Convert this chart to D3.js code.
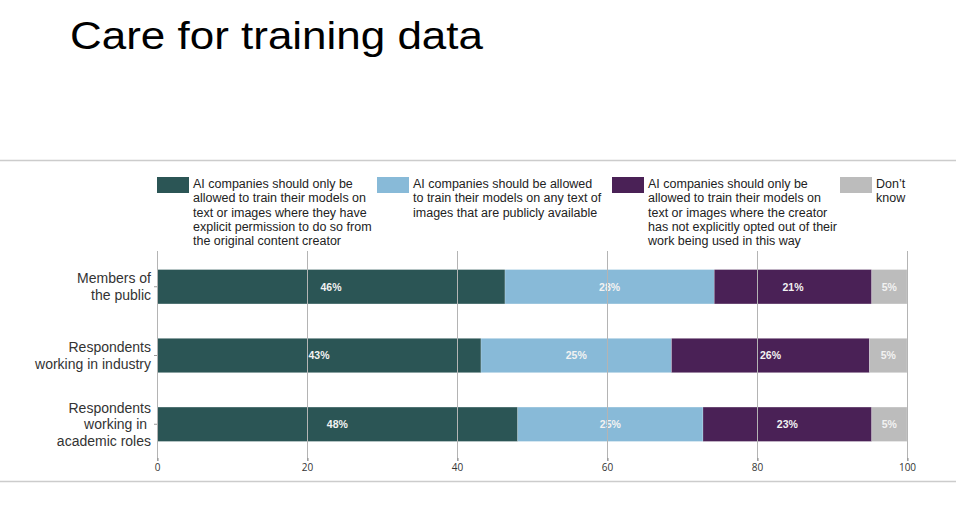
<!DOCTYPE html>
<html>
<head>
<meta charset="utf-8">
<script src="https://cdn.jsdelivr.net/npm/d3@7"></script>
<style>
    body { margin: 0; background: #fff; }
    svg { display: block; font-family: "Liberation Sans", Arial, sans-serif; }
</style>
</head>
<body>
<div id="wrapper"></div>
<script>
// categories (one entry per bar, split into label lines)
const categories = ["public", "industry", "academic"];
const categoryLines = [
    ["Members of", "the public"],
    ["Respondents", "working in industry"],
    ["Respondents", "working in ", "academic roles"]
];

// series values, in percent
const explicitPermission = [46.4, 43.2, 48.1];
const publiclyAvailable = [27.9, 25.4, 24.7];
const notOptedOut = [21.0, 26.4, 22.5];
const dontKnow = [4.7, 5.0, 4.7];

const seriesKeys = ["explicit", "available", "optout", "dontknow"];
const seriesValues = [explicitPermission, publiclyAvailable, notOptedOut, dontKnow];
const seriesColors = ["#2b5555", "#88bad8", "#4a2156", "#bcbcbc"];
const legendLines = [
    ["AI companies should only be", "allowed to train their models on", "text or images where they have", "explicit permission to do so from", "the original content creator"],
    ["AI companies should be allowed", "to train their models on any text of", "images that are publicly available"],
    ["AI companies should only be", "allowed to train their models on", "text or images where the creator", "has not explicitly opted out of their", "work being used in this way"],
    ["Don\u2019t", "know"]
];

const xTicks = [0, 20, 40, 60, 80, 100];
const title = "Care for training data";

function buildPlot() {
    const width = 956;
    const height = 528;

    // table for d3.stack
    const table = categories.map((c, i) => {
        const row = { category: c };
        seriesKeys.forEach((k, j) => row[k] = seriesValues[j][i]);
        return row;
    });

    const svg = d3.select("#wrapper").append("svg")
        .attr("width", width)
        .attr("height", height);

    // title
    svg.append("text")
        .attr("x", 70)
        .attr("y", 49)
        .attr("textLength", 413)
        .attr("lengthAdjust", "spacingAndGlyphs")
        .style("font-size", "38px")
        .style("fill", "#000")
        .text(title);

    // separator lines
    svg.append("line")
        .attr("x1", 0).attr("x2", width)
        .attr("y1", 160.5).attr("y2", 160.5)
        .attr("stroke", "#cccccc").attr("stroke-width", 1.5);
    svg.append("line")
        .attr("x1", 0).attr("x2", width)
        .attr("y1", 481.5).attr("y2", 481.5)
        .attr("stroke", "#cccccc").attr("stroke-width", 1.5);

    const xScale = d3.scaleLinear()
        .domain([0, 100])
        .range([157, 907]);

    const yScale = d3.scaleBand()
        .domain(categories)
        .range([251, 460])
        .paddingInner(0.5)
        .paddingOuter(0.27);

    // legend
    const legendX = [157, 377, 612, 840];
    const legend = svg.append("g").attr("class", "legend");
    seriesKeys.forEach((k, j) => {
        const g = legend.append("g")
            .attr("transform", `translate(${legendX[j]},177)`);
        g.append("rect")
            .attr("width", 32)
            .attr("height", 16)
            .attr("fill", seriesColors[j]);
        const t = g.append("text")
            .attr("x", 36)
            .attr("y", 11)
            .style("font-size", "12.5px")
            .style("fill", "#222");
        t.selectAll("tspan")
            .data(legendLines[j])
            .join("tspan")
            .attr("x", 36)
            .attr("dy", (d, i) => i === 0 ? 0 : 14.3)
            .text(d => d);
    });

    // stacked bars
    const stacked = d3.stack().keys(seriesKeys)(table);

    const layers = svg.append("g").attr("class", "bars")
        .selectAll("g")
        .data(stacked)
        .join("g")
        .attr("fill", (d, j) => seriesColors[j]);

    layers.selectAll("rect")
        .data(d => d)
        .join("rect")
        .attr("x", d => xScale(d[0]))
        .attr("y", d => yScale(d.data.category))
        .attr("width", d => xScale(d[1]) - xScale(d[0]))
        .attr("height", yScale.bandwidth())
        .attr("stroke", "#ffffff")
        .attr("stroke-opacity", 0.35)
        .attr("stroke-width", 0.6);

    // gridlines on top of bars
    svg.append("g").attr("class", "grid")
        .selectAll("line")
        .data(xTicks)
        .join("line")
        .attr("x1", d => xScale(d) + 0.5)
        .attr("x2", d => xScale(d) + 0.5)
        .attr("y1", 251)
        .attr("y2", 461)
        .attr("stroke", "#b4b4b4")
        .attr("stroke-width", 1);

    // value labels
    layers.selectAll("text")
        .data(d => d)
        .join("text")
        .attr("x", d => (xScale(d[0]) + xScale(d[1])) / 2)
        .attr("y", d => yScale(d.data.category) + yScale.bandwidth() / 2)
        .attr("dy", "0.36em")
        .attr("text-anchor", "middle")
        .style("font-weight", "bold")
        .style("font-size", "10.5px")
        .style("fill", "#f2f2f2")
        .text(d => Math.round(d[1] - d[0]) + "%");

    // x axis
    const xAxis = d3.axisBottom(xScale)
        .tickValues(xTicks)
        .tickSize(3)
        .tickPadding(3);

    const gx = svg.append("g")
        .attr("transform", "translate(0,458)")
        .call(xAxis);
    gx.select(".domain").remove();
    gx.selectAll(".tick line").attr("stroke", "#888").attr("transform", "translate(0.5,0)");
    gx.selectAll(".tick text")
        .style("font-family", "'Open Sans', sans-serif")
        .style("font-size", "10px")
        .style("fill", "#333");

    // y axis
    const yAxis = d3.axisLeft(yScale)
        .tickSize(3)
        .tickPadding(3);

    const gy = svg.append("g")
        .attr("transform", "translate(157,0)")
        .call(yAxis);
    gy.select(".domain").remove();
    gy.selectAll(".tick line").attr("stroke", "#999");
    gy.selectAll(".tick text")
        .text(null)
        .attr("dy", null)
        .style("font-size", "14px")
        .style("fill", "#333")
        .style("white-space", "pre")
        .each(function (d) {
            const lines = categoryLines[categories.indexOf(d)];
            const lineH = 16.5;
            const start = -((lines.length - 1) * lineH) / 2;
            d3.select(this).selectAll("tspan")
                .data(lines)
                .join("tspan")
                .attr("x", -6)
                .attr("y", (l, i) => start + i * lineH)
                .attr("dy", "0.35em")
                .text(l => l);
        });
}

buildPlot();
</script>
</body>
</html>
